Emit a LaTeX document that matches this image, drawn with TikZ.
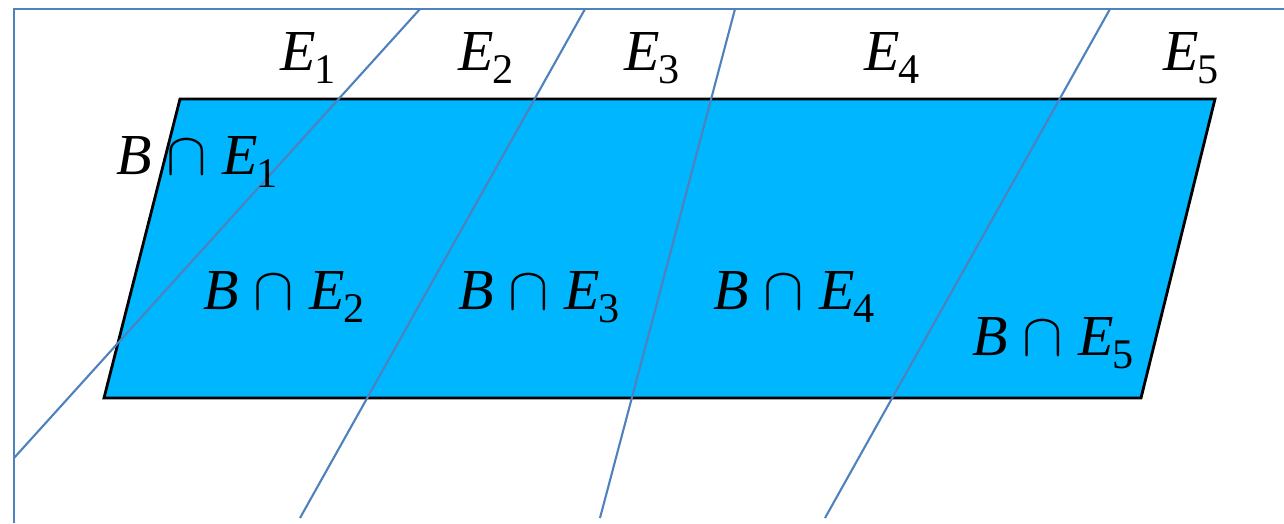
\documentclass[tikz,border=0pt]{standalone}
\usepackage{fontspec}
\setmainfont{Liberation Serif}
\definecolor{cyanfill}{RGB}{0,182,255}
\definecolor{linblue}{RGB}{79,129,189}
\newcommand{\idx}[1]{\raisebox{-0.5ex}{\fontsize{12}{12}\selectfont #1}}
\newcommand{\setE}[1]{\textit{E}\kern-0.5pt\idx{#1}}
\newcommand{\capE}[1]{\textit{B}\kern4pt$\cap$\kern4.5pt\setE{#1}}
\begin{document}
\begin{tikzpicture}[
  x=0.01cm, y=-0.01cm,
  font=\fontsize{16.5}{20}\selectfont,
  frame/.style={draw=linblue, line width=0.65pt},
  cut/.style={draw=linblue, line width=0.6pt},
  plane/.style={draw=black, line width=0.8pt, fill=cyanfill},
  lbl/.style={anchor=base west, inner sep=0pt}
]
\useasboundingbox (0,0) rectangle (1284,523);

% frame
\coordinate (fl) at (14,523);
\coordinate (tl) at (14,9);
\coordinate (tr) at (1284,9);
\draw[frame] (fl) -- (tl) -- (tr);

% the set B
\coordinate (b1) at (180,99);
\coordinate (b2) at (1215,99);
\coordinate (b3) at (1141,398);
\coordinate (b4) at (104,398);
\draw[plane] (b1) -- (b2) -- (b3) -- (b4) -- cycle;

% partition lines
\draw[cut] (420,9) -- (14,458);
\draw[cut] (585,9) -- (300,518);
\draw[cut] (735,9) -- (600,518);
\draw[cut] (1110,9) -- (825,518);

% labels of the parts
\node[lbl] (e1) at (280,70)  {\setE{1}};
\node[lbl] (e2) at (458,70)  {\setE{2}};
\node[lbl] (e3) at (624,70)  {\setE{3}};
\node[lbl] (e4) at (864,70)  {\setE{4}};
\node[lbl] (e5) at (1163,70) {\setE{5}};

% labels of the pieces
\node[lbl] (be1) at (116,174) {\capE{1}};
\node[lbl] (be2) at (203,309) {\capE{2}};
\node[lbl] (be3) at (458,309) {\capE{3}};
\node[lbl] (be4) at (713,309) {\capE{4}};
\node[lbl] (be5) at (972,355) {\capE{5}};
\end{tikzpicture}
\end{document}
